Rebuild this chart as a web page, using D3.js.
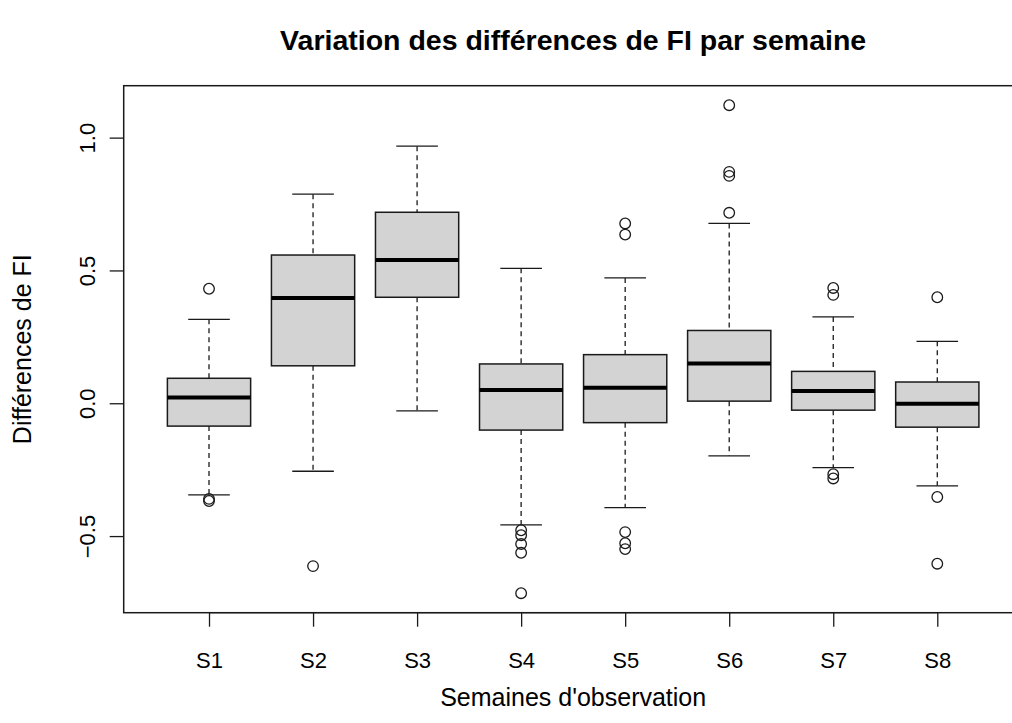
<!DOCTYPE html>
<html>
<head>
<meta charset="utf-8">
<script src="https://cdn.jsdelivr.net/npm/d3@7"></script>
<style>
  html, body { margin: 0; padding: 0; background: #fff; }
  svg { display: block; }
  text { font-family: "Liberation Sans", Arial, Helvetica, sans-serif; fill: #000; }
</style>
</head>
<body>
<svg id="chart" width="1012" height="723"></svg>
<script>
// Weekly summaries of the FI differences (five-number box statistics + outliers)
const weeks       = ["S1", "S2", "S3", "S4", "S5", "S6", "S7", "S8"];
const whiskerLow  = [-0.345, -0.256, -0.029, -0.458, -0.393, -0.198, -0.242, -0.311];
const q1          = [-0.086,  0.141,  0.399, -0.101, -0.073,  0.008, -0.026, -0.090];
const medians     = [ 0.022,  0.396,  0.539,  0.050,  0.058,  0.150,  0.046, -0.002];
const q3          = [ 0.094,  0.558,  0.719,  0.148,  0.183,  0.274,  0.120,  0.080];
const whiskerHigh = [ 0.316,  0.787,  0.968,  0.508,  0.472,  0.677,  0.325,  0.233];
const outliers    = [
  [0.431, -0.360, -0.368],
  [-0.613],
  [],
  [-0.478, -0.497, -0.530, -0.563, -0.715],
  [0.677, 0.635, -0.485, -0.527, -0.549],
  [1.122, 0.871, 0.856, 0.717],
  [0.434, 0.408, -0.267, -0.283],
  [0.399, -0.353, -0.604]
];
const yTicks = [-0.5, 0.0, 0.5, 1.0];

const svg = d3.select("#chart");
const plot = { left: 123.7, right: 1022.6, top: 85.7, bottom: 612.7 };

// Axis limits padded by 4% on each side
const n = weeks.length;
const allVals = [].concat(whiskerLow, whiskerHigh, ...outliers);
const [ymin, ymax] = d3.extent(allVals);
const ypad = (ymax - ymin) * 0.04;
const y = d3.scaleLinear().domain([ymin - ypad, ymax + ypad]).range([plot.bottom, plot.top]);
const xpad = n * 0.04;
const x = d3.scaleLinear().domain([0.5 - xpad, n + 0.5 + xpad]).range([plot.left, plot.right]);

const boxW = x(1.8) - x(1);       // box width = 0.8 of group spacing
const capW = boxW / 2;
const ink = "#1a1a1a";
const tickFont = "22px";
const labFont = "25px";

const groups = svg.append("g").selectAll("g")
  .data(weeks.map((w, i) => ({ w, i })))
  .join("g")
  .attr("transform", d => `translate(${x(d.i + 1)},0)`);

// Dashed whiskers
groups.append("line")
  .attr("x1", 0).attr("x2", 0)
  .attr("y1", d => y(whiskerHigh[d.i])).attr("y2", d => y(q3[d.i]))
  .attr("stroke", ink).attr("stroke-width", 1.3).attr("stroke-dasharray", "5,4");
groups.append("line")
  .attr("x1", 0).attr("x2", 0)
  .attr("y1", d => y(q1[d.i])).attr("y2", d => y(whiskerLow[d.i]))
  .attr("stroke", ink).attr("stroke-width", 1.3).attr("stroke-dasharray", "5,4");

// Whisker caps
[whiskerHigh, whiskerLow].forEach(arr => {
  groups.append("line")
    .attr("x1", -capW / 2).attr("x2", capW / 2)
    .attr("y1", d => y(arr[d.i])).attr("y2", d => y(arr[d.i]))
    .attr("stroke", ink).attr("stroke-width", 1.3);
});

// Boxes
groups.append("rect")
  .attr("x", -boxW / 2).attr("width", boxW)
  .attr("y", d => y(q3[d.i]))
  .attr("height", d => y(q1[d.i]) - y(q3[d.i]))
  .attr("fill", "#d3d3d3").attr("stroke", ink).attr("stroke-width", 1.5);

// Medians
groups.append("line")
  .attr("x1", -boxW / 2).attr("x2", boxW / 2)
  .attr("y1", d => y(medians[d.i])).attr("y2", d => y(medians[d.i]))
  .attr("stroke", "#000").attr("stroke-width", 4);

// Outliers
groups.selectAll("circle")
  .data(d => outliers[d.i])
  .join("circle")
  .attr("cx", 0).attr("cy", v => y(v)).attr("r", 5.3)
  .attr("fill", "none").attr("stroke", ink).attr("stroke-width", 1.3);

// Plot frame
svg.append("rect")
  .attr("x", plot.left).attr("y", plot.top)
  .attr("width", plot.right - plot.left).attr("height", plot.bottom - plot.top)
  .attr("fill", "none").attr("stroke", ink).attr("stroke-width", 1.5);

// Y axis
const yAxis = svg.append("g")
  .attr("transform", `translate(${plot.left},0)`)
  .call(d3.axisLeft(y).tickValues(yTicks).tickFormat(d3.format(".1f")).tickSize(14).tickSizeOuter(0));
yAxis.select(".domain").remove();
yAxis.selectAll(".tick line").attr("stroke", ink).attr("stroke-width", 1.3);
yAxis.selectAll(".tick text")
  .attr("x", 0).attr("dy", null)
  .attr("text-anchor", "middle")
  .attr("dominant-baseline", "central")
  .attr("transform", `translate(-36,0) rotate(-90)`)
  .style("font-size", tickFont)
  .style("font-family", "'Liberation Sans', Arial, sans-serif")
  .attr("fill", "#000");

// X axis
const xAxis = svg.append("g")
  .attr("transform", `translate(0,${plot.bottom})`)
  .call(d3.axisBottom(x).tickValues(d3.range(1, n + 1)).tickFormat(i => weeks[i - 1]).tickSize(14).tickSizeOuter(0));
xAxis.select(".domain")
  .attr("d", `M${x(1)},0H${x(n)}`).attr("stroke", ink).attr("stroke-width", 1.3);
xAxis.selectAll(".tick line").attr("stroke", ink).attr("stroke-width", 1.3);
xAxis.selectAll(".tick text")
  .attr("y", 48).attr("dy", null)
  .attr("dominant-baseline", "central")
  .style("font-size", tickFont)
  .style("font-family", "'Liberation Sans', Arial, sans-serif")
  .attr("fill", "#000");

// Titles
const cx = (plot.left + plot.right) / 2;
const cy = (plot.top + plot.bottom) / 2;
svg.append("text")
  .attr("x", cx).attr("y", 40)
  .attr("text-anchor", "middle").attr("dominant-baseline", "central")
  .style("font-size", "28.5px").style("font-weight", "bold")
  .text("Variation des différences de FI par semaine");
svg.append("text")
  .attr("x", cx).attr("y", 697)
  .attr("text-anchor", "middle").attr("dominant-baseline", "central")
  .style("font-size", labFont)
  .text("Semaines d'observation");
svg.append("text")
  .attr("transform", `translate(22,${cy}) rotate(-90)`)
  .attr("text-anchor", "middle").attr("dominant-baseline", "central")
  .style("font-size", labFont)
  .text("Différences de FI");
</script>
</body>
</html>
